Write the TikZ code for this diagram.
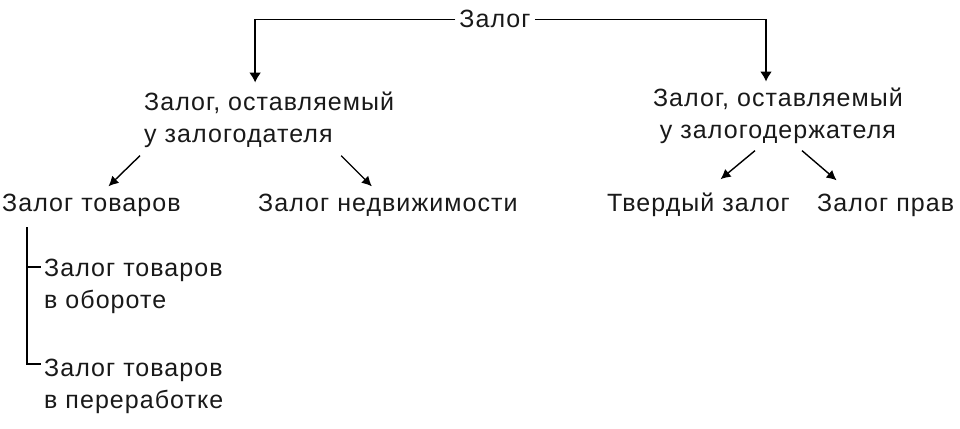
\documentclass[tikz,border=0pt]{standalone}
\usepackage{fontspec}
\setmainfont[LetterSpace=4.2]{Liberation Sans}
\usetikzlibrary{arrows.meta}

\begin{document}
\begin{tikzpicture}[
            x=1pt, y=-1pt,
            label node/.style={inner sep=0pt, text=black!90, font=\fontsize{25}{32}\selectfont},
            down arrow/.style={line width=1.6pt, -{Latex[length=10pt,width=12pt]}},
            side arrow/.style={line width=1.4pt, -{Latex[length=10pt,width=10pt]}},
            side line/.style={line width=1.4pt},
            ]
            \useasboundingbox (0,0) rectangle (960,428);

            \node[label node, anchor=base] (zalog) at (495,28) {Залог};
            \node[label node, anchor=north west, align=left] (zl) at (144,91.5) {Залог, оставляемый\\у залогодателя};
            \node[label node, anchor=north, align=center] (zd) at (778,87.5) {Залог, оставляемый\\у залогодержателя};

            \node[label node, anchor=base west] (tov) at (2,211) {Залог товаров};
            \node[label node, anchor=base west] (ned) at (258,211) {Залог недвижимости};
            \node[label node, anchor=base west] (tv) at (607,211) {Твердый залог};
            \node[label node, anchor=base west] (pr) at (817,211) {Залог прав};

            \node[label node, anchor=north west, align=left] (ob) at (44,259) {Залог товаров\\в обороте};
            \node[label node, anchor=north west, align=left] (per) at (44,359) {Залог товаров\\в переработке};

            \draw[down arrow] ([xshift=-4pt]zalog.west) -| ([shift={(-14,-9)}]zl.north);
            \draw[down arrow] ([xshift=4pt]zalog.east) -| ([shift={(-12,-6)}]zd.north);
            \draw[side arrow] ([shift={(-4,8)}]zl.south west) -- ([shift={(17,-7)}]tov.north);
            \draw[side arrow] ([shift={(72,8)}]zl.south) -- ([shift={(-16,-7)}]ned.north);
            \draw[side arrow] ([shift={(-23,7)}]zd.south) -- ([shift={(22,-13)}]tv.north);
            \draw[side arrow] ([shift={(24,7)}]zd.south) -- ([shift={(-49,-13)}]pr.north);

            \draw[side line] ([shift={(25,11)}]tov.south west) |- ([shift={(-3,5)}]per.north west);
            \draw[side line] ([shift={(-17,8)}]ob.north west) -- ([shift={(-3,8)}]ob.north west);
        \end{tikzpicture}
\end{document}
